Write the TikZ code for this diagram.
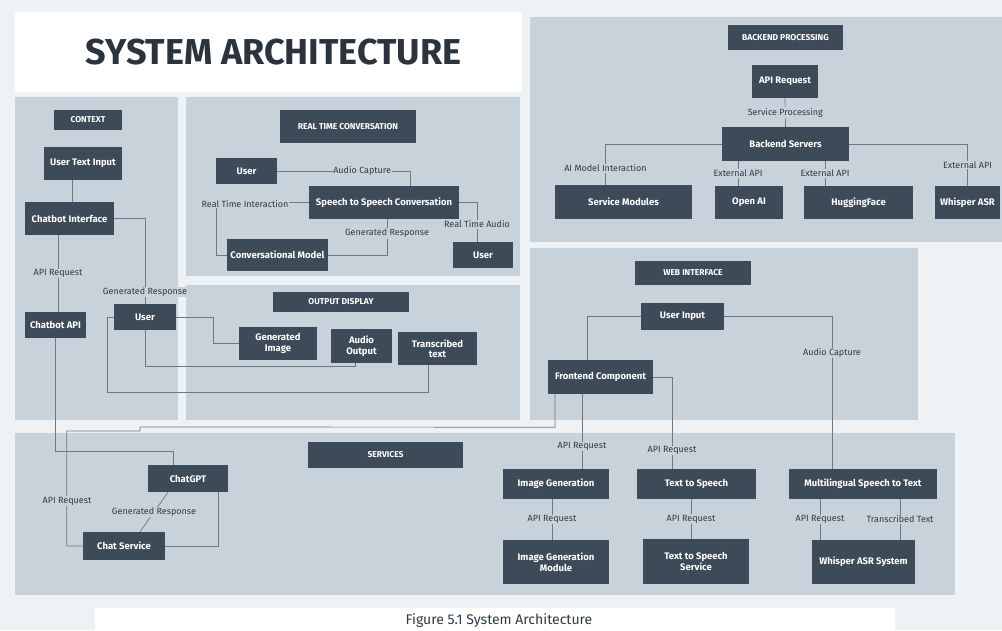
\documentclass[tikz,border=0pt]{standalone}
\usepackage{fontspec}
\setmainfont{Fira Sans}
\usetikzlibrary{calc}
\definecolor{pagebg}{HTML}{EFF2F5}
\definecolor{panelc}{HTML}{C8D2DA}
\definecolor{boxc}{HTML}{3D4A57}
\definecolor{linec}{HTML}{6C7884}
\definecolor{labc}{HTML}{2E3A45}
\definecolor{titlec}{HTML}{2B343D}
\tikzset{
  panel/.style={fill=panelc, draw=none},
  box/.style={fill=boxc, text=white, font=\bfseries\fontsize{9.5}{10.5}\selectfont, align=center, inner sep=1pt, draw=none},
  hdr/.style={box, font=\bfseries\fontsize{8.5}{9}\selectfont},
  conn/.style={draw=linec, line width=0.7pt},
  lab/.style={font=\fontsize{9}{10}\selectfont, text=labc, fill=panelc, inner sep=0.8pt},
}
\begin{document}
\begin{tikzpicture}[x=1pt,y=-1pt]
\useasboundingbox (0,0) rectangle (1002,630);
\fill[pagebg] (0,0) rectangle (1002,630);
% title & caption boxes
\fill[white] (15,12) rectangle (522,92);
\node[font=\bfseries\fontsize{36}{38}\selectfont, text=titlec] (title) at (273.5,52) {SYSTEM ARCHITECTURE};
\fill[white] (95,608) rectangle (895,630);
\node[font=\fontsize{14}{15}\selectfont, text=labc] (cap) at (499,621) {Figure 5.1 System Architecture};
% panels
\fill[panel] (15,97) rectangle (178,420);
\fill[panel] (186,97) rectangle (520,276);
\fill[panel] (186,285) rectangle (520,420);
\fill[panel] (530,17) rectangle (1002,242);
\fill[panel] (530,248) rectangle (918,420);
\fill[panel] (15,433) rectangle (955,595);

% CONTEXT
\node[hdr, minimum width=68, minimum height=20] (ctxh) at (88,120) {CONTEXT};
\node[box, minimum width=78, minimum height=33] (uti) at (83,163.5) {User Text Input};
\node[box, minimum width=89, minimum height=33] (ci) at (69.5,218.5) {Chatbot Interface};
\node[box, minimum width=61, minimum height=26] (capi) at (55.5,325) {Chatbot API};
\node[box, minimum width=62, minimum height=26] (user1) at (145,317) {User};

% REAL TIME
\node[hdr, minimum width=136, minimum height=33] (rth) at (348,126.5) {REAL TIME CONVERSATION};
\node[box, minimum width=61, minimum height=26] (user2) at (246.5,171) {User};
\node[box, minimum width=150, minimum height=33] (s2s) at (384,202.5) {Speech to Speech Conversation};
\node[box, minimum width=101, minimum height=32] (cm) at (277.5,255) {Conversational Model};
\node[box, minimum width=60, minimum height=26] (user3) at (483,255) {User};

% OUTPUT
\node[hdr, minimum width=136, minimum height=20] (odh) at (341,302) {OUTPUT DISPLAY};
\node[box, minimum width=78, minimum height=33] (gi) at (278,343.5) {Generated\\Image};
\node[box, minimum width=61, minimum height=34] (ao) at (361.5,346) {Audio\\Output};
\node[box, minimum width=79, minimum height=33] (tt) at (437.5,348.5) {Transcribed\\text};

% BACKEND
\node[hdr, minimum width=115, minimum height=25] (bph) at (785.5,37.5) {BACKEND PROCESSING};
\node[box, minimum width=66, minimum height=33] (apir) at (785,81.5) {API Request};
\node[box, minimum width=127, minimum height=34] (bs) at (785.5,144) {Backend Servers};
\node[box, minimum width=137, minimum height=34] (sm) at (623.5,202) {Service Modules};
\node[box, minimum width=68, minimum height=33] (oa) at (749,202.5) {Open AI};
\node[box, minimum width=109, minimum height=33] (hf) at (858.5,202.5) {HuggingFace};
\node[box, minimum width=65, minimum height=33] (wasr) at (967.5,202.5) {Whisper ASR};

% WEB
\node[hdr, minimum width=116, minimum height=24] (wih) at (693,273) {WEB INTERFACE};
\node[box, minimum width=83, minimum height=27] (ui) at (682.5,316.5) {User Input};
\node[box, minimum width=105, minimum height=34] (fc) at (600.5,377) {Frontend Component};

% SERVICES
\node[hdr, minimum width=155, minimum height=26] (svh) at (385.5,455) {SERVICES};
\node[box, minimum width=80, minimum height=27] (cgpt) at (188,478.5) {ChatGPT};
\node[box, minimum width=82, minimum height=28] (cs) at (124,546) {Chat Service};
\node[box, minimum width=106, minimum height=30] (ig) at (556,484) {Image Generation};
\node[box, minimum width=119, minimum height=30] (tts) at (696.5,484) {Text to Speech};
\node[box, minimum width=148, minimum height=30] (ml) at (863,484) {Multilingual Speech to Text};
\node[box, minimum width=106, minimum height=44] (igm) at (556,562) {Image Generation\\Module};
\node[box, minimum width=106, minimum height=45] (ttss) at (696,561.5) {Text to Speech\\Service};
\node[box, minimum width=103, minimum height=44] (wasrs) at (863.5,562) {Whisper ASR System};

% ---- connectors: context
\draw[conn] (uti.south -| ci.north) ++(2.5,0) -- ($(ci.north)+(2.5,0)$);
\draw[conn] ($(capi.north)+(2.5,0)$) -- ($(ci.south)+(-11.5,0)$) node[lab, midway] {API Request};
\draw[conn] (ci.east) -| (user1.north) node[lab, pos=0.93] {Generated Response};
% real time
\draw[conn] (user2.east) -| ($(s2s.north)+(26,0)$) node[lab, pos=0.32] {Audio Capture};
\draw[conn] (s2s.west) -| ($(cm.west)+(-10,0)$) -- (cm.west);
\node[lab] (rtil) at (245,204) {Real Time Interaction};
\draw[conn] (cm.east) -| ($(s2s.south)+(3,0)$) node[lab, pos=0.8] {Generated Response};
\draw[conn] (s2s.east) -| ($(user3.north)+(-6,0)$) node[lab, pos=0.78] {Real Time Audio};
% output
\draw[conn] (user1.east) -- ++(37,0) |- (gi.west);
\draw[conn] (user1.south) |- ($(ao.south)+(-6,3)$) -- ($(ao.south)+(-6,0)$);
\draw[conn] ($(tt.south)+(-9,0)$) -- ++(0,27) -| ($(user1.west)+(-6,0)$) -- (user1.west);
% backend
\draw[conn] (apir.south) -- (bs.north) node[lab, midway] {Service Processing};
\draw[conn] (bs.west) -| ($(sm.north)+(-18,0)$) node[lab, pos=0.8] {AI Model Interaction};
\draw[conn] ($(oa.north)+(-11,0)$) -- ($(bs.south)+(-47.5,0)$) node[lab, midway] {External API};
\draw[conn] ($(hf.north)+(-33.5,0)$) -- ($(bs.south)+(39.5,0)$) node[lab, midway] {External API};
\draw[conn] (bs.east) -| (wasr.north) node[lab, pos=0.75] {External API};
% web
\draw[conn] (ui.west) -| ($(fc.north)+(-13.5,0)$);
\draw[conn] (ui.east) -| ($(ml.north)+(-31,0)$) node[lab, pos=0.62] {Audio Capture};
\draw[conn] (fc.east) -| ($(tts.north)+(-24.5,0)$) node[lab, pos=0.9] {API Request};
\draw[conn] ($(fc.south)+(-18.5,0)$) -- ($(ig.north)+(26,0)$) node[lab, pos=0.7] {API Request};
\draw[conn] ($(fc.south)+(-45.5,0)$) -- ++(0,33) -- (140,427) -- (140,431) -| ($(cs.west)+(-16,0)$) -- (cs.west);
\node[lab] (arl) at (67,501) {API Request};
% services
\draw[conn] ($(ig.south)+(-4,0)$) -- ($(igm.north)+(-4,0)$) node[lab, midway] {API Request};
\draw[conn] ($(tts.south)+(-5.5,0)$) -- ($(ttss.north)+(-5,0)$) node[lab, midway] {API Request};
\draw[conn] ($(ml.south)+(-43,0)$) -- ($(wasrs.north)+(-43.5,0)$) node[lab, midway] {API Request};
\draw[conn] ($(ml.south)+(37,0)$) -- ($(wasrs.north)+(36.5,0)$) node[lab, midway] {Transcribed Text};
\draw[conn] (capi.south) |- ($(cgpt.north)+(-15,-13)$) -- ($(cgpt.north)+(-15,0)$);
\draw[conn] ($(cgpt.south)+(-20,0)$) -- ($(cs.north)+(16,0)$) node[lab, midway] {Generated Response};
\draw[conn] ($(cgpt.south)+(30,0)$) |- (cs.east);
\end{tikzpicture}
\end{document}
